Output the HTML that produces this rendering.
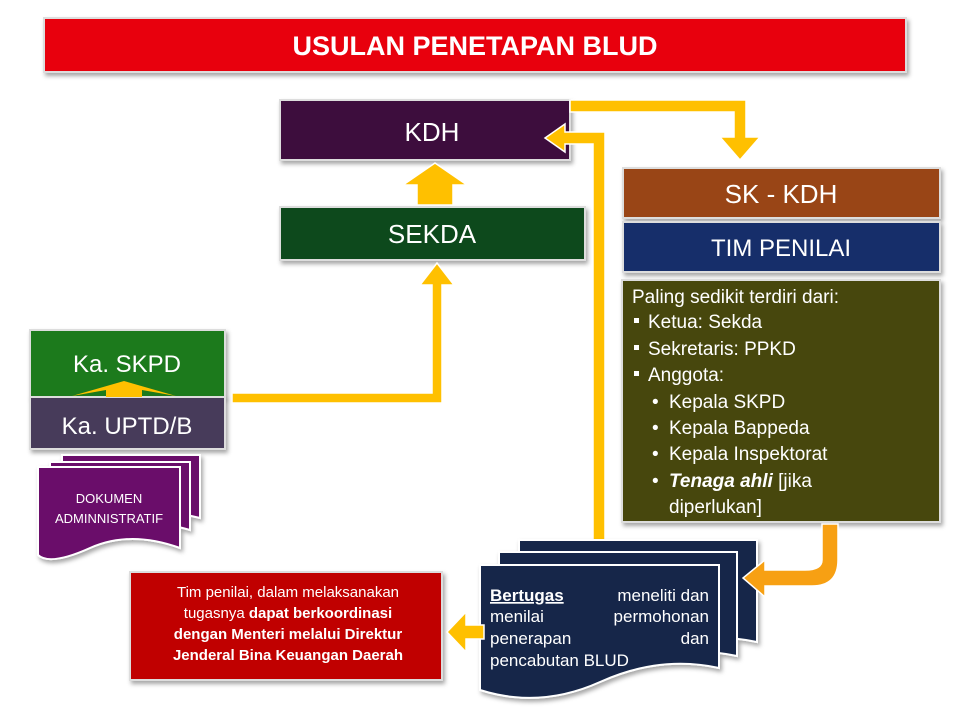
<!DOCTYPE html>
<html><head><meta charset="utf-8"><style>
html,body{margin:0;padding:0;background:#fff;}
svg{display:block;}
text{font-family:"Liberation Sans","DejaVu Sans",sans-serif;}
</style></head><body>
<svg width="960" height="720" viewBox="0 0 960 720" xmlns="http://www.w3.org/2000/svg">
<defs>
<filter id="sh" x="-10%" y="-10%" width="130%" height="140%"><feDropShadow dx="2" dy="3" stdDeviation="2" flood-color="#000" flood-opacity="0.35"/></filter>
</defs>
<rect x="44" y="18" width="862" height="54" fill="#e8000c" stroke="#ddd" stroke-width="2" filter="url(#sh)"/>
<text x="475" y="55" text-anchor="middle" fill="#fff" font-size="27" font-weight="bold">USULAN PENETAPAN BLUD</text>

<rect x="280" y="100" width="290" height="60" fill="#3c0f3e" stroke="#ddd" stroke-width="2" filter="url(#sh)"/>
<text x="432" y="141" text-anchor="middle" fill="#fff" font-size="26">KDH</text>
<polygon points="417,205 417,185 403,185 435,163 467,185 453,185 453,205" fill="#ffc000" stroke="#fff" stroke-width="1.5"/>
<rect x="280" y="207" width="305" height="53" fill="#0a4a1c" stroke="#ddd" stroke-width="2" filter="url(#sh)"/>
<text x="432" y="243" text-anchor="middle" fill="#fff" font-size="26">SEKDA</text>

<polygon points="232,393 432,393 432,285 420,285 437,263 454,285 442,285 442,403 232,403" fill="#ffc000" stroke="#fff" stroke-width="1.5"/>
<rect x="30" y="330" width="195" height="67" fill="#1c7a1c" stroke="#ddd" stroke-width="2" filter="url(#sh)"/>
<text x="127" y="372" text-anchor="middle" fill="#fff" font-size="24">Ka. SKPD</text>
<rect x="30" y="397" width="195" height="52" fill="#463a5a" stroke="#ddd" stroke-width="2" filter="url(#sh)"/>
<text x="127" y="434" text-anchor="middle" fill="#fff" font-size="24">Ka. UPTD/B</text>
<polygon points="106,397 106,390 72,396 124,381 176,396 142,390 142,397" fill="#ffc000"/>

<g filter="url(#sh)">
<path d="M62,455 H200 V518 Q150,505 110,520 T62,522 Z" fill="#6b0f6b" stroke="#fff" stroke-width="2"/>
<path d="M50,462 H190 V530 Q140,515 100,532 T50,534 Z" fill="#6b0f6b" stroke="#fff" stroke-width="2"/>
<path d="M38,467 H180 V548 Q130,530 90,548 T38,555 Z" fill="#6b0f6b" stroke="#fff" stroke-width="2"/>
</g>
<text x="109" y="503" text-anchor="middle" fill="#fff" font-size="13">DOKUMEN</text>
<text x="109" y="523" text-anchor="middle" fill="#fff" font-size="13">ADMINNISTRATIF</text>

<polygon points="570,100 746,100 746,137 760,137 740,160 720,137 734,137 734,112 570,112" fill="#ffc000" stroke="#fff" stroke-width="1.5"/>
<polygon points="593,540 593,144 565,144 565,152 545,138 565,124 565,132 605,132 605,540" fill="#ffc000" stroke="#fff" stroke-width="1.5"/>

<rect x="623" y="168" width="317" height="50" fill="#994514" stroke="#ddd" stroke-width="2" filter="url(#sh)"/>
<text x="781" y="203" text-anchor="middle" fill="#fff" font-size="26">SK - KDH</text>
<rect x="623" y="222" width="317" height="50" fill="#142f6b" stroke="#ddd" stroke-width="2" filter="url(#sh)"/>
<text x="781" y="256" text-anchor="middle" fill="#fff" font-size="24">TIM PENILAI</text>
<rect x="622" y="280" width="318" height="242" fill="#47460f" stroke="#ddd" stroke-width="2" filter="url(#sh)"/>
<g fill="#fff" font-size="19">
<text x="632" y="303">Paling sedikit terdiri dari:</text>
<rect x="634" y="318" width="5" height="5"/><text x="648" y="328">Ketua: Sekda</text>
<rect x="634" y="345" width="5" height="5"/><text x="648" y="355">Sekretaris: PPKD</text>
<rect x="634" y="371" width="5" height="5"/><text x="648" y="381">Anggota:</text>
<text x="652" y="408">•</text><text x="669" y="408">Kepala SKPD</text>
<text x="652" y="434">•</text><text x="669" y="434">Kepala  Bappeda</text>
<text x="652" y="460">•</text><text x="669" y="460">Kepala  Inspektorat</text>
<text x="652" y="487">•</text><text x="669" y="487"><tspan font-weight="bold" font-style="italic">Tenaga ahli</tspan> [jika</text>
<text x="669" y="513">diperlukan]</text>
</g>

<g filter="url(#sh)">
<path d="M519,540 H757 V642 Q700,630 640,650 T519,650 Z" fill="#17284a" stroke="#fff" stroke-width="2"/>
<path d="M499,552 H737 V656 Q680,644 620,664 T499,664 Z" fill="#17284a" stroke="#fff" stroke-width="2"/>
<path d="M480,565 H719 V668 Q660,655 600,682 T480,690 Z" fill="#17284a" stroke="#fff" stroke-width="2"/>
</g>
<path d="M822,524 V560 Q822,570 805,570 H765 V560 L743,578 L765,597 V586 H812 Q838,586 838,560 V524 Z" fill="#f7a013" stroke="#fff" stroke-width="1.5"/>
<g fill="#fff" font-size="17">
<text x="490" y="601"><tspan font-weight="bold" text-decoration="underline">Bertugas</tspan></text>
<text x="709" y="601" text-anchor="end">meneliti  dan</text>
<text x="490" y="622">menilai</text><text x="709" y="622" text-anchor="end">permohonan</text>
<text x="490" y="644">penerapan</text><text x="709" y="644" text-anchor="end">dan</text>
<text x="490" y="666">pencabutan BLUD</text>
</g>

<rect x="130" y="572" width="312" height="108" fill="#c00000" stroke="#ddd" stroke-width="2" filter="url(#sh)"/>
<polygon points="484,625 466,625 466,612 447,632 466,652 466,639 484,639" fill="#ffc000" stroke="#fff" stroke-width="1.5"/>
<g fill="#fff" font-size="15" text-anchor="middle">
<text x="288" y="597">Tim penilai, dalam melaksanakan</text>
<text x="288" y="618">tugasnya <tspan font-weight="bold">dapat berkoordinasi</tspan></text>
<text x="288" y="639" font-weight="bold">dengan Menteri melalui Direktur</text>
<text x="288" y="660" font-weight="bold">Jenderal Bina Keuangan Daerah</text>
</g>
</svg>
</body></html>
